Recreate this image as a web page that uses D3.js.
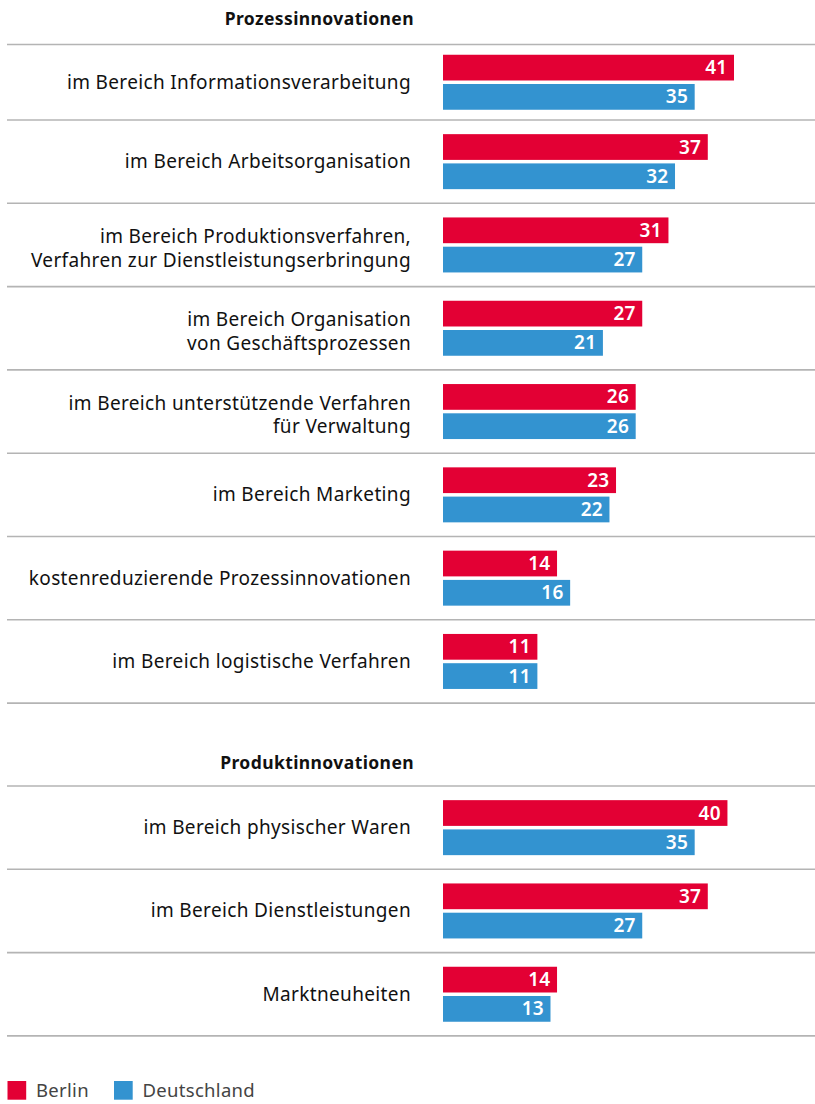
<html>
<head>
<meta charset="utf-8">
<title>Prozess- und Produktinnovationen</title>
<style>
body { margin: 0; background: #fff; }
svg { display: block; font-family: "Noto Sans", "Open Sans", sans-serif; }
</style>
</head>
<body>
<script src="https://cdn.jsdelivr.net/npm/d3@7"></script>
<script>
 // Anteile in Prozent
 var seriesNames = ["Berlin", "Deutschland"];
 var seriesColors = ["#e30034", "#3393d0"];

 var processTitle = "Prozessinnovationen";
 var processCategories = [
   "im Bereich Informationsverarbeitung",
   "im Bereich Arbeitsorganisation",
   "im Bereich Produktionsverfahren,\nVerfahren zur Dienstleistungserbringung",
   "im Bereich Organisation\nvon Geschäftsprozessen",
   "im Bereich unterstützende Verfahren\nfür Verwaltung",
   "im Bereich Marketing",
   "kostenreduzierende Prozessinnovationen",
   "im Bereich logistische Verfahren"
 ];
 var processBerlin = [41, 37, 31, 27, 26, 23, 14, 11];
 var processDeutschland = [35, 32, 27, 21, 26, 22, 16, 11];

 var productTitle = "Produktinnovationen";
 var productCategories = [
   "im Bereich physischer Waren",
   "im Bereich Dienstleistungen",
   "Marktneuheiten"
 ];
 var productBerlin = [40, 37, 14];
 var productDeutschland = [35, 27, 13];

 var width = 815, height = 1104;
 var rowH = 83.3;
 var labelX = 411;

 var svg = d3.select("body").append("svg")
   .attr("width", width)
   .attr("height", height);

 // bars start with a little stub so the numbers fit
 var x = d3.scaleLinear().domain([-3.4, 41]).range([443, 734]);

 var inner = d3.scaleBand()
   .domain(seriesNames)
   .range([0, 55])
   .paddingInner(0.12);

 var color = d3.scaleOrdinal().domain(seriesNames).range(seriesColors);

 function section(title, titleY, ruleY, firstRowH, cats, berlin, deutschland) {
   var g = svg.append("g");

   g.append("text")
     .attr("x", labelX + 3)
     .attr("y", titleY)
     .attr("text-anchor", "end")
     .attr("font-size", 17.5)
     .attr("font-weight", "bold")
     .attr("letter-spacing", 0.4)
     .attr("fill", "#111")
     .text(title);

   var rows = cats.map(function(c, i) {
     var top = i === 0 ? ruleY : ruleY + firstRowH + (i - 1) * rowH;
     var h = i === 0 ? firstRowH : rowH;
     return {
       label: c,
       top: top,
       bottom: top + h,
       mid: top + h / 2,
       values: [
         { key: "Berlin", value: berlin[i] },
         { key: "Deutschland", value: deutschland[i] }
       ]
     };
   });

   var rules = [ruleY].concat(rows.map(function(r) { return r.bottom; }));
   g.selectAll("line.rule")
     .data(rules)
     .enter().append("line")
     .attr("class", "rule")
     .attr("x1", 7).attr("x2", width)
     .attr("y1", function(d) { return d; })
     .attr("y2", function(d) { return d; })
     .attr("stroke", "#b4b4b4")
     .attr("stroke-width", 1.6);

   var row = g.selectAll("g.row")
     .data(rows)
     .enter().append("g")
     .attr("class", "row");

   row.each(function(r) {
     var lines = r.label.split("\n");
     var t = d3.select(this).append("text")
       .attr("text-anchor", "end")
       .attr("font-size", 19)
       .attr("letter-spacing", 0.35)
       .attr("fill", "#111");
     var first = lines.length === 1 ? r.mid + 6.5 : r.mid - 1.8;
     lines.forEach(function(l, j) {
       t.append("tspan")
         .attr("x", labelX)
         .attr("y", first + j * 23.5)
         .text(l);
     });
   });

   var bar = row.selectAll("g.bar")
     .data(function(r) {
       return r.values.map(function(v) { return { key: v.key, value: v.value, y: r.mid - 27.5 + inner(v.key) }; });
     })
     .enter().append("g")
     .attr("class", "bar");

   bar.append("rect")
     .attr("x", x(x.domain()[0]))
     .attr("y", function(d) { return d.y; })
     .attr("width", function(d) { return x(d.value) - x(x.domain()[0]); })
     .attr("height", inner.bandwidth())
     .attr("fill", function(d) { return color(d.key); });

   bar.append("text")
     .attr("x", function(d) { return x(d.value) - 6.5; })
     .attr("y", function(d) { return d.y + inner.bandwidth() / 2 + 6.5; })
     .attr("text-anchor", "end")
     .attr("font-size", 19)
     .attr("font-weight", 600)
     .attr("letter-spacing", 0.3)
     .attr("fill", "#fff")
     .text(function(d) { return d.value; });
 }

 section(processTitle, 25, 44.5, 75.5, processCategories, processBerlin, processDeutschland);
 section(productTitle, 769, 786, rowH, productCategories, productBerlin, productDeutschland);

 // legend
 var legend = svg.append("g").attr("transform", "translate(7.5,1081)");
 var legendX = [0, 106.5];
 var item = legend.selectAll("g")
   .data(seriesNames)
   .enter().append("g")
   .attr("transform", function(d, i) { return "translate(" + legendX[i] + ",0)"; });
 item.append("rect")
   .attr("width", 18.7).attr("height", 18.7)
   .attr("fill", function(d) { return color(d); });
 item.append("text")
   .attr("x", 28.5)
   .attr("y", 16)
   .attr("font-size", 18.5)
   .attr("letter-spacing", 0.3)
   .attr("fill", "#444")
   .text(function(d) { return d; });
</script>
</body>
</html>
